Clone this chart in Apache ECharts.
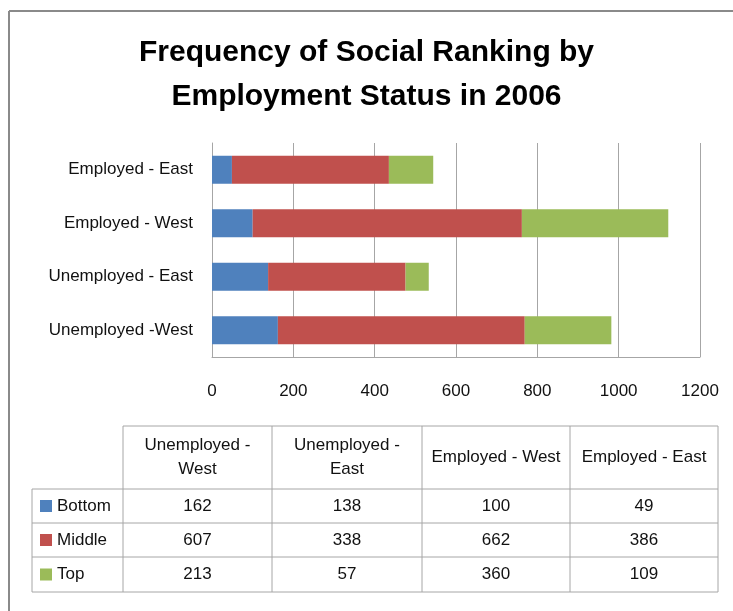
<!DOCTYPE html>
<html>
<head>
<meta charset="utf-8">
<script src="https://cdn.jsdelivr.net/npm/echarts@6/dist/echarts.min.js"></script>
<style>
  html, body { margin: 0; padding: 0; background: #fff; }
  #chart { width: 733px; height: 611px; }
</style>
</head>
<body>
<div id="chart"></div>
<script>
var categories = ['Unemployed -West', 'Unemployed - East', 'Employed - West', 'Employed - East'];
var tableHeaders = ['Unemployed -\nWest', 'Unemployed -\nEast', 'Employed - West', 'Employed - East'];
var seriesNames = ['Bottom', 'Middle', 'Top'];
var bottomValues = [162, 138, 100, 49];
var middleValues = [607, 338, 662, 386];
var topValues = [213, 57, 360, 109];
var xTicks = [0, 200, 400, 600, 800, 1000, 1200];

(function() {
  var font = '"Liberation Sans", Arial, sans-serif';
  var colors = ['#4F81BD', '#C0504D', '#9BBB59'];
  var ink = '#111';
  var rule = '#a6a6a6';
  var frame = '#8a8a8a';
  var values = [bottomValues, middleValues, topValues];

  var chart = echarts.init(document.getElementById('chart'), null, { renderer: 'canvas' });

  // table layout
  var colX = [123, 272, 422, 570, 718];
  var headTop = 426, headBottom = 489;
  var rowY = [489, 523, 557, 592];
  var legendLeft = 32;

  var g = [];
  function line(x1, y1, x2, y2, color, w) {
    g.push({ type: 'line', shape: { x1: x1, y1: y1, x2: x2, y2: y2 },
      style: { stroke: color, lineWidth: w || 1 }, silent: true });
  }
  function text(x, y, str, align) {
    g.push({ type: 'text', x: x, y: y,
      style: { text: str, fill: ink, font: '17px ' + font, align: align || 'center',
        verticalAlign: 'middle', lineHeight: 24 }, silent: true });
  }

  // outer frame
  line(9, 11, 733, 11, frame, 2);
  line(9, 11, 9, 611, frame, 2);

  // table grid
  line(colX[0], headTop, colX[4], headTop, rule);
  rowY.forEach(function(y) { line(legendLeft, y, colX[4], y, rule); });
  line(legendLeft, rowY[0], legendLeft, rowY[3], rule);
  colX.forEach(function(x) { line(x, headTop, x, rowY[3], rule); });

  tableHeaders.forEach(function(h, i) {
    text((colX[i] + colX[i + 1]) / 2, (headTop + headBottom) / 2, h);
  });
  seriesNames.forEach(function(name, r) {
    var cy = (rowY[r] + rowY[r + 1]) / 2;
    g.push({ type: 'rect', shape: { x: 40, y: cy - 6, width: 12, height: 12 },
      style: { fill: colors[r] }, silent: true });
    text(57, cy, name, 'left');
    values[r].forEach(function(v, c) {
      text((colX[c] + colX[c + 1]) / 2, cy, String(v));
    });
  });

  chart.setOption({
    animation: false,
    title: {
      text: 'Frequency of Social Ranking by\nEmployment Status in 2006',
      left: 'center',
      top: 26,
      textStyle: { fontFamily: font, fontSize: 30, fontWeight: 'bold', color: '#000', lineHeight: 44 }
    },
    grid: { left: 212, right: 33, top: 143, bottom: 254, containLabel: false },
    xAxis: {
      type: 'value',
      min: xTicks[0],
      max: xTicks[xTicks.length - 1],
      interval: xTicks[1] - xTicks[0],
      axisLine: { show: true, lineStyle: { color: rule } },
      axisTick: { show: false },
      axisLabel: { color: ink, fontSize: 17, fontFamily: font, margin: 26,
        formatter: function(v) { return String(v); } },
      splitLine: { show: true, lineStyle: { color: rule } }
    },
    yAxis: {
      type: 'category',
      data: categories,
      axisLine: { show: true, lineStyle: { color: rule } },
      axisTick: { show: false },
      axisLabel: { color: ink, fontSize: 17, fontFamily: font, margin: 19 }
    },
    series: seriesNames.map(function(name, i) {
      return {
        name: name,
        type: 'bar',
        stack: 'total',
        barWidth: 28,
        itemStyle: { color: colors[i] },
        data: values[i]
      };
    }),
    graphic: g
  });

  window.addEventListener('resize', function() { chart.resize(); });
})();
</script>
</body>
</html>
